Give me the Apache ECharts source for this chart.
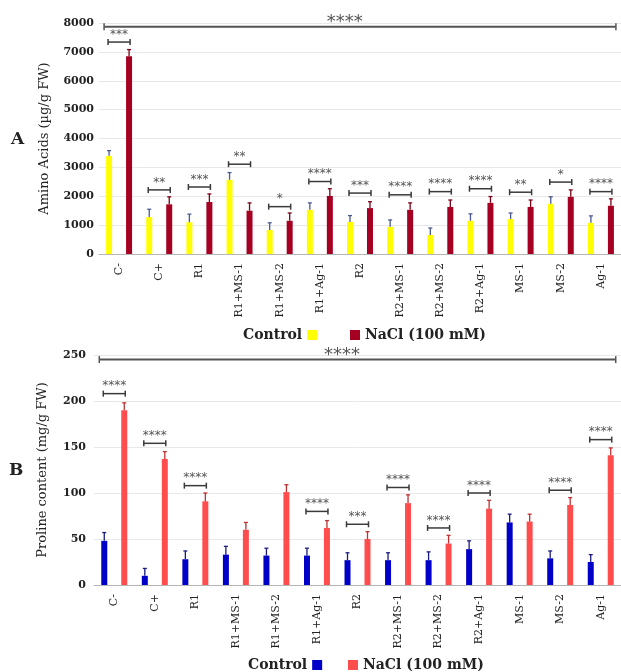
<!DOCTYPE html>
<html><head><meta charset="utf-8">
<script src="https://cdn.jsdelivr.net/npm/echarts@6/dist/echarts.min.js"></script>
<style>html,body{margin:0;padding:0;background:#fff}#c{width:621px;height:672px}</style>
</head><body><div id="c"></div>
<script>
const categories = ['C-','C+','R1','R1+MS-1','R1+MS-2','R1+Ag-1','R2','R2+MS-1','R2+MS-2','R2+Ag-1','MS-1','MS-2','Ag-1'];

// Panel A: Amino acids (µg/g FW)
const aaControl    = [3400, 1280, 1100, 2570, 830, 1530, 1110, 940, 660, 1150, 1210, 1740, 1080];
const aaControlErr = [180, 270, 280, 250, 250, 240, 220, 240, 240, 240, 210, 240, 240];
const aaNaCl       = [6850, 1720, 1800, 1500, 1150, 2010, 1590, 1530, 1630, 1770, 1630, 1980, 1670];
const aaNaClErr    = [230, 260, 280, 270, 270, 250, 220, 240, 240, 220, 240, 240, 240];
const aaSigY       = [7340, 2220, 2320, 3110, 1640, 2510, 2110, 2050, 2160, 2260, 2140, 2490, 2160];
const aaSigLabel   = ['***','**','***','**','*','****','***','****','****','****','**','*','****'];
const aaOverallY   = 7870;
const aaOverallLabel = '****';
const aaTicks = [0, 1000, 2000, 3000, 4000, 5000, 6000, 7000, 8000];

// Panel B: Proline content (mg/g FW)
const proControl    = [48, 10, 28, 33, 32, 32, 27, 27, 27, 39, 68, 29, 25];
const proControlErr = [9, 8, 9, 9, 8, 8, 8, 8, 9, 9, 9, 8, 8];
const proNaCl       = [190, 137, 91, 60, 101, 62, 50, 89, 45, 83, 69, 87, 141];
const proNaClErr    = [8, 8, 9, 8, 8, 8, 8, 9, 9, 9, 8, 8, 8];
const proSigY       = [208, 154, 108, null, null, 80, 66, 106, 62, 100, null, 103, 158];
const proSigLabel   = ['****','****','****','','','****','***','****','****','****','','****','****'];
const proOverallY   = 245;
const proOverallLabel = '****';
const proTicks = [0, 50, 100, 150, 200, 250];

const SERIF = 'DejaVu Serif';
const OFF = 10;

function errSeries(name, xi, vals, errs, offset, color) {
  return {
    type: 'custom', name: name, xAxisIndex: xi, yAxisIndex: xi, z: 5, silent: true,
    data: vals.map((v, i) => [i, v, errs[i]]),
    renderItem: function (params, api) {
      const i = api.value(0), v = api.value(1), e = api.value(2);
      const b = api.coord([i, v]), t = api.coord([i, v + e]);
      const x = b[0] + offset;
      return { type: 'group', children: [
        { type: 'line', shape: { x1: x, y1: b[1], x2: x, y2: t[1] }, style: { stroke: color, lineWidth: 1.3 } },
        { type: 'line', shape: { x1: x - 2, y1: t[1], x2: x + 2, y2: t[1] }, style: { stroke: color, lineWidth: 1.3 } }
      ]};
    }
  };
}

function sigSeries(name, xi, ys, labels) {
  const data = [];
  ys.forEach((y, i) => { if (y != null) data.push([i, y]); });
  return {
    type: 'custom', name: name, xAxisIndex: xi, yAxisIndex: xi, z: 6, silent: true,
    data: data,
    renderItem: function (params, api) {
      const i = api.value(0), y = api.value(1);
      const c = api.coord([i, y]);
      const x1 = c[0] - 11, x2 = c[0] + 11, yy = c[1];
      const st = { stroke: '#3a3a3a', lineWidth: 1.5 };
      return { type: 'group', children: [
        { type: 'line', shape: { x1: x1, y1: yy, x2: x2, y2: yy }, style: st },
        { type: 'line', shape: { x1: x1, y1: yy - 3, x2: x1, y2: yy + 3 }, style: st },
        { type: 'line', shape: { x1: x2, y1: yy - 3, x2: x2, y2: yy + 3 }, style: st },
        { type: 'text', style: { text: labels[i], x: c[0], y: yy - 7.5, textAlign: 'center', textVerticalAlign: 'middle', font: '12px DejaVu Sans', fill: '#555' } }
      ]};
    }
  };
}

function overallSeries(name, xi, y, label) {
  return {
    type: 'custom', name: name, xAxisIndex: xi, yAxisIndex: xi, z: 6, silent: true,
    data: [[0, y, categories.length - 1]],
    renderItem: function (params, api) {
      const yv = api.value(1);
      const p0 = api.coord([api.value(0), yv]), p1 = api.coord([api.value(2), yv]);
      const x0 = p0[0] - 15, x1 = p1[0] + 15, yy = p0[1];
      const st = { stroke: '#555', lineWidth: 2 };
      return { type: 'group', children: [
        { type: 'line', shape: { x1: x0, y1: yy, x2: x1, y2: yy }, style: st },
        { type: 'line', shape: { x1: x0, y1: yy - 3.5, x2: x0, y2: yy + 3.5 }, style: { stroke: '#555', lineWidth: 1.5 } },
        { type: 'line', shape: { x1: x1, y1: yy - 3.5, x2: x1, y2: yy + 3.5 }, style: { stroke: '#555', lineWidth: 1.5 } },
        { type: 'text', style: { text: label, x: x0 + (x1 - x0) * 0.47, y: yy - 4.5, textAlign: 'center', textVerticalAlign: 'middle', font: '18px DejaVu Sans', fill: '#555' } }
      ]};
    }
  };
}

function xAxisCfg(gi) {
  return {
    type: 'category', gridIndex: gi, data: categories,
    axisTick: { show: false },
    axisLine: { lineStyle: { color: '#b5b5b5', width: 1 } },
    axisLabel: { rotate: 90, interval: 0, fontFamily: SERIF, fontSize: 11, color: '#222', margin: 9 }
  };
}
function yAxisCfg(gi, ticks, name, gap, margin) {
  return {
    type: 'value', gridIndex: gi, min: ticks[0], max: ticks[ticks.length - 1], interval: ticks[1] - ticks[0],
    name: name, nameLocation: 'middle', nameGap: gap,
    nameTextStyle: { fontFamily: SERIF, fontSize: 13, color: '#222' },
    axisLine: { show: false }, axisTick: { show: false },
    axisLabel: { fontFamily: SERIF, fontWeight: 'bold', fontSize: 11, color: '#222', margin: margin,
                 formatter: function (v) { return String(v); } },
    splitLine: { lineStyle: { color: '#e8e8e8', width: 1 } }
  };
}
function legendCfg(name, color, align, left, top) {
  return {
    data: [{ name: name, itemStyle: { color: color } }],
    align: align, left: left, top: top, orient: 'horizontal',
    icon: 'rect', itemWidth: 10, itemHeight: 10, selectedMode: false,
    textStyle: { fontFamily: SERIF, fontWeight: 'bold', fontSize: 14, color: '#222' }
  };
}

const chart = echarts.init(document.getElementById('c'));
chart.setOption({
  animation: false,
  backgroundColor: '#fff',
  grid: [
    { left: 99, right: -3, top: 23, height: 231 },
    { left: 94, right: -3, top: 355, height: 230 }
  ],
  xAxis: [xAxisCfg(0), xAxisCfg(1)],
  yAxis: [
    yAxisCfg(0, aaTicks, 'Amino Acids (µg/g FW)', 48, 5),
    yAxisCfg(1, proTicks, 'Proline content (mg/g FW)', 45, 8)
  ],
  legend: [
    legendCfg('Control', '#ffff00', 'right', 238, 323),
    legendCfg('NaCl (100 mM)', '#a50021', 'left', 345, 323),
    legendCfg('Control', '#0000c8', 'right', 243, 653),
    legendCfg('NaCl (100 mM)', '#ff4d4d', 'left', 343, 653)
  ],
  graphic: [
    { type: 'text', left: 11, top: 131, style: { text: 'A', font: 'bold 17px ' + SERIF, fill: '#222' } },
    { type: 'text', left: 9, top: 462, style: { text: 'B', font: 'bold 17px ' + SERIF, fill: '#222' } }
  ],
  series: [
    { type: 'bar', name: 'Control', xAxisIndex: 0, yAxisIndex: 0, data: aaControl, barWidth: 6, barGap: '233%', itemStyle: { color: '#ffff00' } },
    { type: 'bar', name: 'NaCl (100 mM)', xAxisIndex: 0, yAxisIndex: 0, data: aaNaCl, barWidth: 6, barGap: '233%', itemStyle: { color: '#a50021' } },
    { type: 'bar', name: 'Control', xAxisIndex: 1, yAxisIndex: 1, data: proControl, barWidth: 6, barGap: '233%', itemStyle: { color: '#0000c8' } },
    { type: 'bar', name: 'NaCl (100 mM)', xAxisIndex: 1, yAxisIndex: 1, data: proNaCl, barWidth: 6, barGap: '233%', itemStyle: { color: '#ff4d4d' } },
    errSeries('errA1', 0, aaControl, aaControlErr, -OFF, '#4a5a90'),
    errSeries('errA2', 0, aaNaCl, aaNaClErr, OFF, '#7a0015'),
    errSeries('errB1', 1, proControl, proControlErr, -OFF, '#1a1a80'),
    errSeries('errB2', 1, proNaCl, proNaClErr, OFF, '#c03030'),
    sigSeries('sigA', 0, aaSigY, aaSigLabel),
    sigSeries('sigB', 1, proSigY, proSigLabel),
    overallSeries('allA', 0, aaOverallY, aaOverallLabel),
    overallSeries('allB', 1, proOverallY, proOverallLabel)
  ]
});
</script>
</body></html>
